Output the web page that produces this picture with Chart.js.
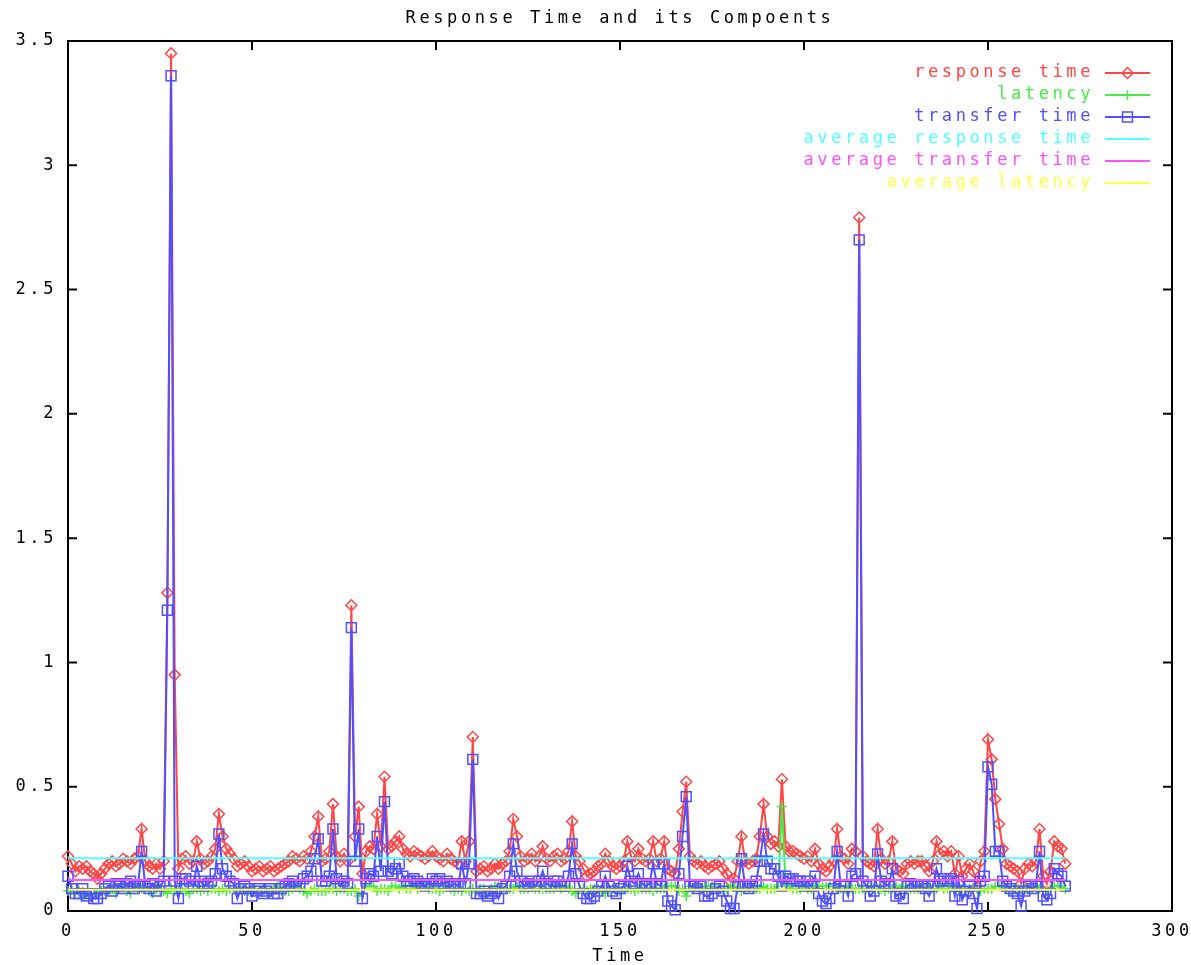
<!DOCTYPE html>
<html>
<head>
<meta charset="utf-8">
<title>Response Time and its Compoents</title>
<script src="https://cdn.jsdelivr.net/npm/chart.js@4.4.0/dist/chart.umd.min.js"></script>
<style>
  html, body { margin: 0; padding: 0; background: #fff; }
  #chart-response { display: block; }
</style>
</head>
<body>
<canvas id="chart-response" width="1191" height="965"></canvas>
<script>
// one sample per second, values in seconds
var responseTime = [
  .22,.19,.16,.18,.17,.18,.16,.15,.13,.15,
  .17,.19,.20,.18,.19,.21,.20,.19,.21,.22,
  .33,.20,.18,.17,.19,.17,.20,1.28,3.45,.95,
  .17,.21,.22,.19,.20,.28,.21,.19,.20,.22,
  .25,.39,.30,.25,.23,.21,.18,.19,.20,.18,
  .16,.17,.18,.16,.17,.18,.16,.17,.18,.19,
  .20,.22,.21,.20,.22,.21,.24,.30,.38,.20,
  .21,.24,.43,.22,.20,.23,.20,1.23,.30,.42,
  .15,.24,.26,.25,.39,.26,.54,.25,.26,.28,
  .30,.25,.23,.22,.24,.23,.22,.21,.22,.24,
  .22,.21,.20,.23,.21,.20,.19,.28,.20,.28,
  .70,.16,.17,.18,.16,.17,.19,.17,.19,.20,
  .24,.37,.30,.22,.20,.21,.23,.20,.22,.26,
  .21,.20,.22,.23,.20,.21,.24,.36,.22,.20,
  .17,.14,.15,.16,.18,.19,.23,.20,.18,.17,
  .18,.20,.28,.22,.20,.25,.21,.20,.21,.28,
  .20,.21,.28,.17,.16,.15,.25,.40,.52,.22,
  .20,.19,.20,.18,.17,.18,.19,.20,.17,.15,
  .12,.13,.20,.30,.20,.19,.20,.21,.30,.43,
  .30,.27,.28,.26,.53,.26,.24,.24,.23,.22,
  .21,.22,.20,.25,.19,.17,.16,.18,.20,.33,
  .22,.21,.19,.25,.24,2.79,.22,.20,.19,.18,
  .33,.21,.19,.20,.28,.17,.16,.15,.19,.20,
  .19,.20,.20,.18,.16,.20,.28,.23,.24,.22,
  .24,.15,.22,.14,.17,.19,.16,.10,.20,.24,
  .69,.61,.45,.35,.25,.19,.18,.17,.16,.11,
  .17,.19,.18,.20,.33,.14,.11,.16,.28,.26,
  .25,.19
];

var latency = [
  .08,.09,.07,.08,.06,.07,.06,.07,.07,.08,
  .08,.08,.09,.07,.09,.10,.08,.07,.10,.09,
  .09,.09,.08,.07,.10,.08,.08,.07,.09,.08,
  .08,.09,.08,.07,.09,.09,.08,.09,.08,.09,
  .09,.08,.09,.08,.09,.09,.08,.09,.08,.08,
  .09,.08,.08,.09,.08,.08,.09,.10,.08,.08,
  .08,.09,.10,.09,.08,.07,.08,.09,.08,.08,
  .08,.09,.09,.08,.09,.09,.08,.08,.09,.06,
  .07,.10,.10,.10,.08,.09,.09,.08,.10,.10,
  .09,.10,.09,.09,.10,.09,.10,.10,.09,.09,
  .09,.08,.09,.10,.09,.08,.09,.08,.09,.08,
  .09,.08,.09,.09,.07,.09,.10,.10,.09,.09,
  .09,.09,.10,.09,.09,.09,.10,.09,.09,.09,
  .09,.09,.09,.10,.09,.10,.09,.08,.07,.09,
  .09,.08,.09,.09,.09,.08,.07,.09,.09,.09,
  .08,.09,.09,.09,.08,.09,.09,.09,.09,.08,
  .09,.09,.09,.10,.10,.10,.08,.09,.06,.10,
  .09,.10,.09,.10,.10,.10,.09,.09,.08,.09,
  .10,.10,.09,.08,.09,.09,.09,.09,.09,.10,
  .09,.09,.09,.10,.42,.10,.10,.09,.09,.09,
  .10,.09,.09,.10,.10,.10,.10,.10,.10,.09,
  .09,.09,.10,.09,.09,.09,.09,.09,.10,.09,
  .09,.09,.08,.09,.09,.10,.09,.10,.09,.09,
  .09,.09,.10,.09,.10,.09,.09,.10,.09,.09,
  .10,.09,.09,.09,.09,.09,.09,.09,.08,.09,
  .09,.09,.10,.10,.10,.09,.08,.09,.09,.09,
  .09,.09,.09,.10,.09,.08,.08,.09,.10,.10,
  .10,.09
];

var transferTime = [
  .14,.09,.07,.07,.09,.06,.07,.05,.05,.07,
  .09,.10,.08,.11,.10,.09,.11,.12,.09,.10,
  .24,.10,.09,.11,.08,.10,.12,1.21,3.36,.12,
  .05,.13,.13,.12,.10,.18,.12,.10,.11,.12,
  .15,.31,.17,.14,.12,.11,.05,.09,.10,.09,
  .06,.08,.09,.07,.08,.09,.07,.07,.09,.10,
  .11,.12,.10,.10,.13,.14,.16,.21,.29,.12,
  .12,.14,.33,.13,.10,.12,.11,1.14,.20,.33,
  .05,.13,.15,.14,.30,.16,.44,.16,.15,.17,
  .19,.14,.12,.12,.13,.12,.11,.10,.11,.13,
  .12,.13,.11,.12,.10,.11,.10,.19,.11,.19,
  .61,.07,.07,.08,.06,.07,.08,.05,.09,.10,
  .14,.27,.16,.12,.10,.11,.12,.10,.12,.16,
  .11,.10,.12,.12,.10,.10,.14,.27,.15,.10,
  .07,.05,.05,.06,.08,.10,.14,.10,.08,.07,
  .09,.10,.18,.12,.11,.15,.11,.10,.11,.19,
  .11,.10,.19,.04,.02,.005,.15,.30,.46,.10,
  .10,.09,.10,.06,.06,.07,.09,.10,.08,.04,
  .01,.01,.10,.21,.10,.09,.10,.12,.20,.31,
  .20,.17,.17,.14,.10,.14,.13,.13,.12,.12,
  .10,.12,.10,.14,.07,.04,.03,.05,.09,.24,
  .10,.10,.06,.14,.15,2.70,.12,.10,.06,.08,
  .23,.12,.11,.10,.17,.06,.07,.05,.10,.11,
  .10,.10,.10,.09,.06,.10,.17,.12,.13,.12,
  .13,.06,.12,.045,.08,.10,.07,.01,.12,.14,
  .58,.51,.24,.24,.12,.10,.09,.08,.07,.02,
  .08,.10,.09,.10,.24,.06,.045,.07,.17,.15,
  .14,.10
];

// run averages
var avgResponse = 0.212;
var avgTransfer = 0.125;
var avgLatency = 0.085;

var xRange = [0, 300], xStep = 50;
var yRange = [0, 3.5], yStep = 0.5;

var FONT = '"DejaVu Sans Mono", "Liberation Mono", monospace';
var FONT_SIZE = 17;
var LETTER_GAP = '3.6px';

function series(values) {
  return values.map(function (v, i) { return { x: i, y: v }; });
}
function flat(value) {
  var last = responseTime.length - 1;
  return [{ x: 0, y: value }, { x: last, y: value }];
}

// gnuplot-ish wide lettering
var spacing = {
  id: 'spacing',
  beforeLayout: function (chart) { chart.ctx.letterSpacing = LETTER_GAP; },
  beforeDraw: function (chart) {
    var ctx = chart.ctx;
    ctx.save();
    ctx.fillStyle = '#fff';
    ctx.fillRect(0, 0, chart.width, chart.height);
    ctx.restore();
    ctx.letterSpacing = LETTER_GAP;
  }
};

// border box with inward ticks on all four sides
var frame = {
  id: 'frame',
  beforeDatasetsDraw: function (chart) {
    var ctx = chart.ctx, a = chart.chartArea;
    var sx = chart.scales.x, sy = chart.scales.y, len = 9;
    ctx.save();
    ctx.strokeStyle = '#000';
    ctx.lineWidth = 2;
    ctx.beginPath();
    sx.ticks.forEach(function (t) {
      var px = sx.getPixelForValue(t.value);
      ctx.moveTo(px, a.bottom); ctx.lineTo(px, a.bottom - len);
      ctx.moveTo(px, a.top); ctx.lineTo(px, a.top + len);
    });
    sy.ticks.forEach(function (t) {
      var py = sy.getPixelForValue(t.value);
      ctx.moveTo(a.left, py); ctx.lineTo(a.left + len, py);
      ctx.moveTo(a.right, py); ctx.lineTo(a.right - len, py);
    });
    ctx.stroke();
    ctx.strokeRect(a.left, a.top, a.right - a.left, a.bottom - a.top);
    ctx.restore();
  }
};

// key in the top right corner: label, then line sample with its marker
var key = {
  id: 'key',
  afterDraw: function (chart) {
    var ctx = chart.ctx;
    var textRight = 1094, lineFrom = 1105, lineTo = 1150, top = 73, row = 22;
    ctx.save();
    ctx.font = FONT_SIZE + 'px ' + FONT;
    ctx.letterSpacing = LETTER_GAP;
    ctx.textAlign = 'right';
    ctx.textBaseline = 'middle';
    chart.data.datasets.forEach(function (ds, i) {
      var y = top + i * row;
      ctx.fillStyle = ds.borderColor;
      ctx.fillText(ds.label, textRight, y);
      ctx.strokeStyle = ds.borderColor;
      ctx.lineWidth = 2;
      ctx.beginPath();
      ctx.moveTo(lineFrom, y);
      ctx.lineTo(lineTo, y);
      ctx.stroke();
      if (ds.pointRadius > 0) {
        ctx.fillStyle = 'rgba(0,0,0,0)';
        ctx.lineWidth = ds.pointBorderWidth;
        Chart.helpers.drawPoint(ctx, {
          pointStyle: ds.pointStyle, radius: ds.pointRadius,
          borderWidth: ds.pointBorderWidth, rotation: 0
        }, (lineFrom + lineTo) / 2, y);
      }
    });
    ctx.restore();
  }
};

var RED = 'rgb(255,70,70)';
var GREEN = 'rgb(70,235,70)';
var BLUE = 'rgb(80,80,255)';
var CYAN = 'rgb(80,255,255)';
var MAGENTA = 'rgb(255,80,255)';
var YELLOW = 'rgb(255,255,70)';

function lineSet(label, data, color, style, radius, order) {
  return {
    label: label, data: data, order: order,
    borderColor: color, backgroundColor: 'rgba(0,0,0,0)',
    borderWidth: 2, tension: 0, clip: 10,
    pointStyle: style, pointRadius: radius, pointBorderWidth: 1.5,
    pointBorderColor: color, pointBackgroundColor: 'rgba(0,0,0,0)'
  };
}

var tickFont = { family: FONT, size: FONT_SIZE, lineHeight: 1 };

var ctx = document.getElementById('chart-response').getContext('2d');
var chart = new Chart(ctx, {
  type: 'line',
  data: {
    datasets: [
      lineSet('response time', series(responseTime), RED, 'rectRot', 5.5, 6),
      lineSet('latency', series(latency), GREEN, 'cross', 5, 5),
      lineSet('transfer time', series(transferTime), BLUE, 'rect', 7, 4),
      lineSet('average response time', flat(avgResponse), CYAN, 'line', 0, 3),
      lineSet('average transfer time', flat(avgTransfer), MAGENTA, 'line', 0, 2),
      lineSet('average latency', flat(avgLatency), YELLOW, 'line', 0, 1)
    ]
  },
  options: {
    responsive: false,
    animation: false,
    events: [],
    layout: { padding: { top: 0, right: 19, bottom: 0, left: 0 } },
    plugins: {
      legend: { display: false },
      tooltip: { enabled: false },
      title: {
        display: true,
        text: 'Response Time and its Compoents',
        color: '#000',
        fullSize: false,
        font: { family: FONT, size: FONT_SIZE, weight: 'normal', lineHeight: 1 },
        padding: { top: 10, bottom: 14 }
      }
    },
    scales: {
      x: {
        type: 'linear',
        min: xRange[0], max: xRange[1],
        grid: { display: false, drawTicks: false },
        border: { display: false },
        ticks: { stepSize: xStep, color: '#000', padding: 12, maxRotation: 0, font: tickFont },
        title: { display: true, text: 'Time', color: '#000', padding: 0, font: tickFont },
        afterFit: function (s) { s.height = 54; s.paddingLeft = 0; s.paddingRight = 0; }
      },
      y: {
        min: yRange[0], max: yRange[1],
        grid: { display: false, drawTicks: false },
        border: { display: false },
        ticks: {
          stepSize: yStep, color: '#000', padding: 11, font: tickFont,
          callback: function (v) { return String(Math.round(v * 10) / 10); }
        },
        afterFit: function (s) { s.width = 68; }
      }
    }
  },
  plugins: [spacing, frame, key]
});
</script>
</body>
</html>
